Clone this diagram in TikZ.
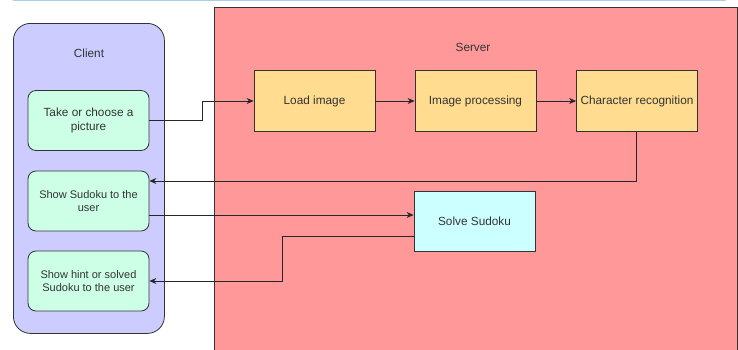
\documentclass[tikz,border=0pt]{standalone}
\usepackage{fontspec}
\setmainfont{Liberation Sans}
\usetikzlibrary{arrows.meta}
\definecolor{serverred}{HTML}{FF9999}
\definecolor{clientblue}{HTML}{CCCCFF}
\definecolor{greenbox}{HTML}{CCFFE6}
\definecolor{yellowbox}{HTML}{FFDC8F}
\definecolor{cyanbox}{HTML}{CCFFFF}
\definecolor{topline}{HTML}{A9CDEB}
\definecolor{edgegray}{HTML}{333333}
\tikzset{
  px/.style={x=1pt,y=-1pt},
  clientbox/.style={draw=edgegray,fill=greenbox,rounded corners=8pt,line width=0.8pt,minimum width=121pt,minimum height=60pt,align=center,inner sep=0pt,font=\fontsize{11}{13.5}\selectfont,text=black!80},
  procbox/.style={draw=edgegray,fill=yellowbox,line width=0.8pt,minimum width=121pt,minimum height=61pt,align=center,inner sep=0pt,font=\fontsize{11.8}{14}\selectfont,text=black!80},
  conn/.style={draw=black!85,line width=0.8pt,-{Stealth[length=7pt,width=6pt]}},
}
\begin{document}
\begin{tikzpicture}[px]
\useasboundingbox (0,0) rectangle (738,349);
\begin{scope}
\clip (0,0) rectangle (738,349);
\draw[topline,line width=1.5pt] (13,0.7) -- (726,0.7);
\node[draw=edgegray,fill=serverred,line width=0.8pt,minimum width=523pt,minimum height=350pt,inner sep=0pt,anchor=north west] (server) at (214,7) {};
\end{scope}
\node[draw=edgegray,fill=clientblue,rounded corners=17pt,line width=0.8pt,minimum width=151pt,minimum height=310pt,inner sep=0pt,anchor=north west] (client) at (13,23) {};
\node[font=\fontsize{11.8}{14}\selectfont,text=black!80] (clientlbl) at (89,53) {Client};
\node[font=\fontsize{11.8}{14}\selectfont,text=black!80] (serverlbl) at (473,47) {Server};

\node[clientbox,font=\fontsize{11.8}{14.5}\selectfont] (take) at (88.5,120.5) {Take or choose a\\picture};
\node[clientbox] (show) at (88.5,201) {Show Sudoku to the\\user};
\node[clientbox] (hint) at (88.5,281) {Show hint or solved\\Sudoku to the user};

\node[procbox] (load) at (314.5,101) {Load image};
\node[procbox] (proc) at (475.5,101) {Image processing};
\node[procbox] (recog) at (637,101) {Character recognition};
\node[procbox,fill=cyanbox,minimum height=60pt] (solve) at (474.5,221) {Solve Sudoku};

\coordinate (t1) at (202,120.5);
\coordinate (t2) at (202,101);
\draw[conn] (take.east) -- (t1) -- (t2) -- (load.west);
\draw[conn] (load.east) -- (proc.west);
\draw[conn] (proc.east) -- (recog.west);
\coordinate (r1) at (636,181);
\draw[conn] (recog.south -| r1) -- (r1) -- (show.east |- r1);
\coordinate (u1) at (150,215);
\draw[conn] (show.east |- u1) -- (solve.west |- u1);
\coordinate (s1) at (282,236);
\coordinate (s2) at (282,281);
\draw[conn] (solve.west |- s1) -- (s1) -- (s2) -- (hint.east);
\end{tikzpicture}
\end{document}
